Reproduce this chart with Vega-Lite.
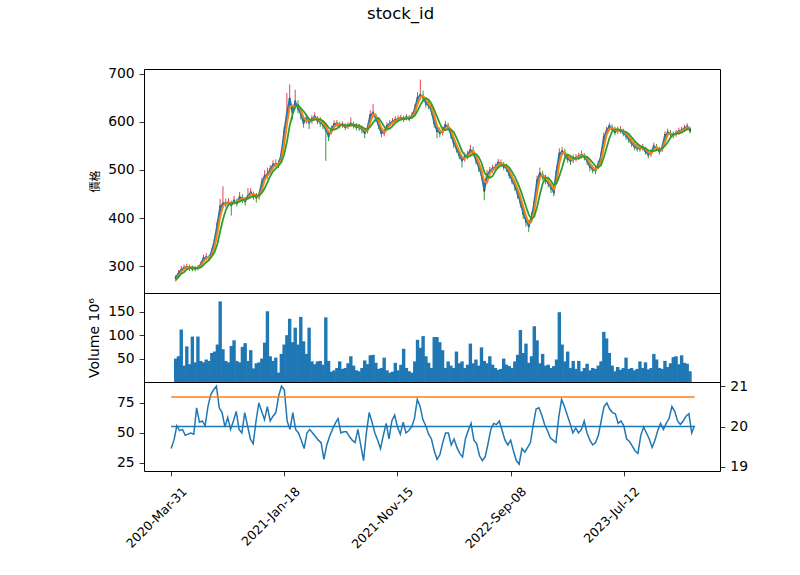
{
  "$schema": "https://vega.github.io/schema/vega-lite/v6.json",
  "background": "white",
  "padding": {"left": 87, "top": 5, "right": 5, "bottom": 5},
  "bounds": "flush",
  "title": {"text": "stock_id", "font": "DejaVu Sans", "fontSize": 16.5, "fontWeight": "normal", "color": "black", "anchor": "middle", "offset": 44, "dx": -17},
  "spacing": 0,
  "datasets": {
    "px": [
      {"i":0,"open":273,"high":281,"low":268,"close":277,"ma5":275,"ma10":270,"ma20":272,"volume":50,"rsi":37},
      {"i":5,"open":282,"high":292,"low":278,"close":286,"ma5":284,"ma10":280,"ma20":277,"volume":55,"rsi":44},
      {"i":10,"open":290,"high":300,"low":287,"close":294,"ma5":292,"ma10":288,"ma20":284,"volume":112,"rsi":56},
      {"i":15,"open":294,"high":303,"low":290,"close":298,"ma5":296,"ma10":294,"ma20":287,"volume":35,"rsi":52},
      {"i":20,"open":296,"high":305,"low":292,"close":300,"ma5":298,"ma10":297,"ma20":293,"volume":76,"rsi":53},
      {"i":25,"open":299,"high":303,"low":290,"close":295,"ma5":297,"ma10":298,"ma20":296,"volume":38,"rsi":48},
      {"i":30,"open":297,"high":301,"low":289,"close":293,"ma5":295,"ma10":296,"ma20":297,"volume":97,"rsi":49},
      {"i":35,"open":293,"high":300,"low":289,"close":297,"ma5":295,"ma10":295,"ma20":296,"volume":42,"rsi":50},
      {"i":40,"open":294,"high":302,"low":291,"close":298,"ma5":296,"ma10":296,"ma20":296,"volume":97,"rsi":49},
      {"i":45,"open":300,"high":309,"low":296,"close":304,"ma5":302,"ma10":299,"ma20":297,"volume":45,"rsi":71},
      {"i":50,"open":312,"high":324,"low":308,"close":318,"ma5":315,"ma10":309,"ma20":302,"volume":42,"rsi":59},
      {"i":55,"open":316,"high":327,"low":312,"close":320,"ma5":318,"ma10":317,"ma20":308,"volume":48,"rsi":60},
      {"i":60,"open":318,"high":323,"low":310,"close":314,"ma5":316,"ma10":317,"ma20":313,"volume":45,"rsi":56},
      {"i":65,"open":327,"high":338,"low":322,"close":333,"ma5":330,"ma10":323,"ma20":320,"volume":62,"rsi":72},
      {"i":70,"open":348,"high":362,"low":344,"close":356,"ma5":352,"ma10":341,"ma20":329,"volume":65,"rsi":82},
      {"i":75,"open":380,"high":396,"low":376,"close":390,"ma5":385,"ma10":369,"ma20":346,"volume":80,"rsi":86},
      {"i":80,"open":414,"high":440,"low":410,"close":426,"ma5":420,"ma10":403,"ma20":372,"volume":172,"rsi":89},
      {"i":85,"open":426,"high":466,"low":420,"close":432,"ma5":430,"ma10":425,"ma20":397,"volume":70,"rsi":71},
      {"i":90,"open":428,"high":440,"low":422,"close":432,"ma5":430,"ma10":430,"ma20":416,"volume":45,"rsi":67},
      {"i":95,"open":430,"high":441,"low":425,"close":434,"ma5":432,"ma10":431,"ma20":428,"volume":42,"rsi":55},
      {"i":100,"open":431,"high":436,"low":405,"close":425,"ma5":428,"ma10":430,"ma20":430,"volume":77,"rsi":63},
      {"i":105,"open":432,"high":446,"low":428,"close":438,"ma5":435,"ma10":432,"ma20":431,"volume":89,"rsi":53},
      {"i":110,"open":435,"high":440,"low":424,"close":429,"ma5":432,"ma10":434,"ma20":432,"volume":45,"rsi":60},
      {"i":115,"open":439,"high":454,"low":435,"close":445,"ma5":442,"ma10":437,"ma20":434,"volume":42,"rsi":68},
      {"i":120,"open":443,"high":449,"low":431,"close":437,"ma5":440,"ma10":441,"ma20":437,"volume":75,"rsi":53},
      {"i":125,"open":439,"high":444,"low":426,"close":433,"ma5":436,"ma10":438,"ma20":438,"volume":83,"rsi":50},
      {"i":130,"open":442,"high":462,"low":438,"close":448,"ma5":445,"ma10":441,"ma20":441,"volume":45,"rsi":67},
      {"i":135,"open":449,"high":462,"low":445,"close":455,"ma5":452,"ma10":449,"ma20":443,"volume":68,"rsi":56},
      {"i":140,"open":450,"high":455,"low":438,"close":444,"ma5":447,"ma10":450,"ma20":445,"volume":29,"rsi":45},
      {"i":145,"open":447,"high":452,"low":432,"close":441,"ma5":444,"ma10":446,"ma20":447,"volume":40,"rsi":41},
      {"i":150,"open":443,"high":455,"low":438,"close":449,"ma5":446,"ma10":445,"ma20":447,"volume":42,"rsi":60},
      {"i":155,"open":468,"high":484,"low":462,"close":476,"ma5":472,"ma10":459,"ma20":452,"volume":50,"rsi":75},
      {"i":160,"open":483,"high":500,"low":478,"close":489,"ma5":486,"ma10":479,"ma20":462,"volume":84,"rsi":68},
      {"i":165,"open":487,"high":505,"low":482,"close":493,"ma5":490,"ma10":488,"ma20":474,"volume":151,"rsi":61},
      {"i":170,"open":497,"high":510,"low":492,"close":503,"ma5":500,"ma10":495,"ma20":487,"volume":55,"rsi":72},
      {"i":175,"open":507,"high":520,"low":502,"close":513,"ma5":510,"ma10":505,"ma20":497,"volume":45,"rsi":60},
      {"i":180,"open":510,"high":522,"low":505,"close":514,"ma5":512,"ma10":511,"ma20":503,"volume":52,"rsi":64},
      {"i":185,"open":510,"high":520,"low":504,"close":514,"ma5":512,"ma10":512,"ma20":509,"volume":20,"rsi":67},
      {"i":190,"open":526,"high":542,"low":520,"close":534,"ma5":530,"ma10":521,"ma20":516,"volume":60,"rsi":81},
      {"i":195,"open":570,"high":590,"low":562,"close":580,"ma5":575,"ma10":553,"ma20":532,"volume":80,"rsi":89},
      {"i":200,"open":610,"high":660,"low":600,"close":620,"ma5":615,"ma10":595,"ma20":558,"volume":100,"rsi":86},
      {"i":205,"open":642,"high":678,"low":632,"close":650,"ma5":646,"ma10":631,"ma20":592,"volume":135,"rsi":60},
      {"i":210,"open":626,"high":635,"low":605,"close":618,"ma5":622,"ma10":634,"ma20":615,"volume":85,"rsi":53},
      {"i":215,"open":636,"high":667,"low":630,"close":644,"ma5":640,"ma10":631,"ma20":631,"volume":116,"rsi":67},
      {"i":220,"open":634,"high":645,"low":618,"close":626,"ma5":630,"ma10":635,"ma20":635,"volume":80,"rsi":53},
      {"i":225,"open":622,"high":630,"low":605,"close":614,"ma5":618,"ma10":624,"ma20":628,"volume":139,"rsi":50},
      {"i":230,"open":604,"high":612,"low":588,"close":596,"ma5":600,"ma10":609,"ma20":622,"volume":87,"rsi":44},
      {"i":235,"open":603,"high":616,"low":596,"close":609,"ma5":606,"ma10":603,"ma20":614,"volume":60,"rsi":37},
      {"i":240,"open":603,"high":608,"low":585,"close":597,"ma5":600,"ma10":603,"ma20":606,"volume":116,"rsi":50},
      {"i":245,"open":602,"high":614,"low":596,"close":608,"ma5":605,"ma10":603,"ma20":603,"volume":44,"rsi":53},
      {"i":250,"open":607,"high":620,"low":602,"close":613,"ma5":610,"ma10":608,"ma20":605,"volume":38,"rsi":50},
      {"i":255,"open":607,"high":612,"low":595,"close":601,"ma5":604,"ma10":607,"ma20":605,"volume":44,"rsi":47},
      {"i":260,"open":603,"high":610,"low":590,"close":597,"ma5":600,"ma10":602,"ma20":605,"volume":45,"rsi":44},
      {"i":265,"open":598,"high":604,"low":585,"close":592,"ma5":595,"ma10":598,"ma20":602,"volume":37,"rsi":42},
      {"i":270,"open":589,"high":596,"low":519,"close":581,"ma5":585,"ma10":590,"ma20":596,"volume":138,"rsi":28},
      {"i":275,"open":576,"high":582,"low":560,"close":568,"ma5":572,"ma10":579,"ma20":588,"volume":45,"rsi":40},
      {"i":280,"open":580,"high":592,"low":574,"close":586,"ma5":583,"ma10":578,"ma20":584,"volume":22,"rsi":47},
      {"i":285,"open":591,"high":603,"low":586,"close":597,"ma5":594,"ma10":589,"ma20":584,"volume":25,"rsi":53},
      {"i":290,"open":594,"high":604,"low":590,"close":598,"ma5":596,"ma10":595,"ma20":586,"volume":30,"rsi":58},
      {"i":295,"open":595,"high":600,"low":586,"close":591,"ma5":593,"ma10":595,"ma20":592,"volume":44,"rsi":62},
      {"i":300,"open":592,"high":601,"low":588,"close":596,"ma5":594,"ma10":594,"ma20":594,"volume":28,"rsi":50},
      {"i":305,"open":592,"high":597,"low":583,"close":588,"ma5":590,"ma10":592,"ma20":593,"volume":30,"rsi":51},
      {"i":310,"open":590,"high":599,"low":585,"close":594,"ma5":592,"ma10":591,"ma20":592,"volume":40,"rsi":51},
      {"i":315,"open":594,"high":609,"low":590,"close":598,"ma5":596,"ma10":594,"ma20":593,"volume":55,"rsi":47},
      {"i":320,"open":595,"high":600,"low":586,"close":591,"ma5":593,"ma10":595,"ma20":593,"volume":35,"rsi":44},
      {"i":325,"open":592,"high":597,"low":582,"close":588,"ma5":590,"ma10":592,"ma20":593,"volume":25,"rsi":42},
      {"i":330,"open":591,"high":596,"low":581,"close":587,"ma5":589,"ma10":590,"ma20":592,"volume":23,"rsi":53},
      {"i":335,"open":587,"high":592,"low":576,"close":583,"ma5":585,"ma10":587,"ma20":589,"volume":30,"rsi":40},
      {"i":340,"open":581,"high":586,"low":566,"close":575,"ma5":578,"ma10":582,"ma20":586,"volume":46,"rsi":27},
      {"i":345,"open":582,"high":594,"low":576,"close":588,"ma5":585,"ma10":582,"ma20":584,"volume":38,"rsi":50},
      {"i":350,"open":608,"high":624,"low":602,"close":616,"ma5":612,"ma10":599,"ma20":590,"volume":57,"rsi":67},
      {"i":355,"open":615,"high":637,"low":610,"close":621,"ma5":618,"ma10":615,"ma20":598,"volume":58,"rsi":59},
      {"i":360,"open":611,"high":618,"low":600,"close":605,"ma5":608,"ma10":613,"ma20":606,"volume":41,"rsi":50},
      {"i":365,"open":598,"high":604,"low":585,"close":592,"ma5":595,"ma10":602,"ma20":608,"volume":28,"rsi":44},
      {"i":370,"open":581,"high":587,"low":568,"close":575,"ma5":578,"ma10":587,"ma20":600,"volume":30,"rsi":37},
      {"i":375,"open":576,"high":586,"low":570,"close":580,"ma5":578,"ma10":578,"ma20":590,"volume":52,"rsi":48},
      {"i":380,"open":587,"high":599,"low":582,"close":593,"ma5":590,"ma10":584,"ma20":585,"volume":25,"rsi":58},
      {"i":385,"open":594,"high":604,"low":590,"close":598,"ma5":596,"ma10":593,"ma20":586,"volume":20,"rsi":45},
      {"i":390,"open":598,"high":608,"low":594,"close":602,"ma5":600,"ma10":598,"ma20":591,"volume":22,"rsi":60},
      {"i":395,"open":602,"high":612,"low":598,"close":606,"ma5":604,"ma10":602,"ma20":598,"volume":41,"rsi":65},
      {"i":400,"open":604,"high":613,"low":600,"close":608,"ma5":606,"ma10":605,"ma20":602,"volume":25,"rsi":55},
      {"i":405,"open":606,"high":615,"low":602,"close":610,"ma5":608,"ma10":607,"ma20":605,"volume":37,"rsi":49},
      {"i":410,"open":608,"high":613,"low":600,"close":604,"ma5":606,"ma10":607,"ma20":606,"volume":71,"rsi":59},
      {"i":415,"open":607,"high":616,"low":603,"close":611,"ma5":609,"ma10":608,"ma20":607,"volume":30,"rsi":50},
      {"i":420,"open":609,"high":614,"low":601,"close":605,"ma5":607,"ma10":608,"ma20":608,"volume":23,"rsi":52},
      {"i":425,"open":610,"high":620,"low":606,"close":614,"ma5":612,"ma10":610,"ma20":609,"volume":20,"rsi":55},
      {"i":430,"open":621,"high":636,"low":617,"close":629,"ma5":625,"ma10":619,"ma20":613,"volume":44,"rsi":62},
      {"i":435,"open":644,"high":662,"low":640,"close":652,"ma5":648,"ma10":637,"ma20":623,"volume":90,"rsi":78},
      {"i":440,"open":652,"high":688,"low":646,"close":658,"ma5":655,"ma10":652,"ma20":635,"volume":73,"rsi":72},
      {"i":445,"open":655,"high":665,"low":642,"close":649,"ma5":652,"ma10":654,"ma20":645,"volume":98,"rsi":61},
      {"i":450,"open":644,"high":652,"low":630,"close":636,"ma5":640,"ma10":646,"ma20":649,"volume":55,"rsi":56},
      {"i":455,"open":638,"high":645,"low":626,"close":632,"ma5":635,"ma10":638,"ma20":646,"volume":41,"rsi":49},
      {"i":460,"open":629,"high":636,"low":614,"close":621,"ma5":625,"ma10":630,"ma20":638,"volume":30,"rsi":45},
      {"i":465,"open":604,"high":612,"low":588,"close":596,"ma5":600,"ma10":613,"ma20":625,"volume":96,"rsi":35},
      {"i":470,"open":587,"high":594,"low":566,"close":579,"ma5":583,"ma10":592,"ma20":611,"volume":96,"rsi":28},
      {"i":475,"open":581,"high":588,"low":568,"close":575,"ma5":578,"ma10":581,"ma20":597,"volume":85,"rsi":32},
      {"i":480,"open":577,"high":590,"low":572,"close":583,"ma5":580,"ma10":579,"ma20":585,"volume":68,"rsi":42},
      {"i":485,"open":589,"high":602,"low":584,"close":595,"ma5":592,"ma10":586,"ma20":583,"volume":30,"rsi":50},
      {"i":490,"open":592,"high":598,"low":582,"close":588,"ma5":590,"ma10":591,"ma20":585,"volume":44,"rsi":50},
      {"i":495,"open":578,"high":584,"low":565,"close":572,"ma5":575,"ma10":583,"ma20":584,"volume":35,"rsi":40},
      {"i":500,"open":562,"high":568,"low":546,"close":554,"ma5":558,"ma10":567,"ma20":579,"volume":30,"rsi":45},
      {"i":505,"open":549,"high":556,"low":536,"close":543,"ma5":546,"ma10":552,"ma20":567,"volume":65,"rsi":38},
      {"i":510,"open":535,"high":540,"low":522,"close":529,"ma5":532,"ma10":539,"ma20":553,"volume":40,"rsi":33},
      {"i":515,"open":524,"high":528,"low":505,"close":518,"ma5":521,"ma10":527,"ma20":539,"volume":44,"rsi":30},
      {"i":520,"open":523,"high":536,"low":517,"close":529,"ma5":526,"ma10":524,"ma20":531,"volume":30,"rsi":45},
      {"i":525,"open":527,"high":540,"low":522,"close":533,"ma5":530,"ma10":528,"ma20":527,"volume":37,"rsi":52},
      {"i":530,"open":537,"high":552,"low":532,"close":543,"ma5":540,"ma10":535,"ma20":529,"volume":82,"rsi":58},
      {"i":535,"open":541,"high":548,"low":528,"close":535,"ma5":538,"ma10":539,"ma20":534,"volume":40,"rsi":44},
      {"i":540,"open":525,"high":532,"low":512,"close":519,"ma5":522,"ma10":530,"ma20":533,"volume":48,"rsi":41},
      {"i":545,"open":511,"high":518,"low":496,"close":505,"ma5":508,"ma10":515,"ma20":527,"volume":35,"rsi":31},
      {"i":550,"open":496,"high":502,"low":480,"close":488,"ma5":492,"ma10":500,"ma20":515,"volume":74,"rsi":27},
      {"i":555,"open":465,"high":472,"low":437,"close":455,"ma5":460,"ma10":476,"ma20":496,"volume":45,"rsi":30},
      {"i":560,"open":484,"high":500,"low":475,"close":492,"ma5":488,"ma10":474,"ma20":487,"volume":40,"rsi":41},
      {"i":565,"open":494,"high":506,"low":488,"close":500,"ma5":497,"ma10":493,"ma20":484,"volume":55,"rsi":53},
      {"i":570,"open":499,"high":511,"low":494,"close":505,"ma5":502,"ma10":500,"ma20":487,"volume":37,"rsi":58},
      {"i":575,"open":503,"high":513,"low":498,"close":507,"ma5":505,"ma10":504,"ma20":498,"volume":30,"rsi":57},
      {"i":580,"open":511,"high":523,"low":506,"close":517,"ma5":514,"ma10":510,"ma20":505,"volume":26,"rsi":60},
      {"i":585,"open":512,"high":522,"low":507,"close":516,"ma5":514,"ma10":514,"ma20":509,"volume":28,"rsi":52},
      {"i":590,"open":511,"high":517,"low":500,"close":505,"ma5":508,"ma10":511,"ma20":510,"volume":50,"rsi":44},
      {"i":595,"open":508,"high":513,"low":496,"close":502,"ma5":505,"ma10":507,"ma20":510,"volume":37,"rsi":40},
      {"i":600,"open":496,"high":502,"low":482,"close":488,"ma5":492,"ma10":499,"ma20":505,"volume":34,"rsi":44},
      {"i":605,"open":484,"high":490,"low":470,"close":476,"ma5":480,"ma10":486,"ma20":496,"volume":30,"rsi":35},
      {"i":610,"open":472,"high":478,"low":457,"close":464,"ma5":468,"ma10":474,"ma20":486,"volume":44,"rsi":27},
      {"i":615,"open":456,"high":462,"low":440,"close":448,"ma5":452,"ma10":460,"ma20":473,"volume":58,"rsi":24},
      {"i":620,"open":440,"high":446,"low":422,"close":430,"ma5":435,"ma10":444,"ma20":459,"volume":111,"rsi":37},
      {"i":625,"open":417,"high":424,"low":398,"close":407,"ma5":412,"ma10":424,"ma20":442,"volume":62,"rsi":34},
      {"i":630,"open":399,"high":405,"low":382,"close":391,"ma5":395,"ma10":404,"ma20":424,"volume":82,"rsi":38},
      {"i":635,"open":389,"high":396,"low":371,"close":381,"ma5":385,"ma10":390,"ma20":407,"volume":41,"rsi":42},
      {"i":640,"open":396,"high":412,"low":390,"close":404,"ma5":400,"ma10":393,"ma20":398,"volume":55,"rsi":57},
      {"i":645,"open":425,"high":442,"low":418,"close":435,"ma5":430,"ma10":415,"ma20":403,"volume":119,"rsi":70},
      {"i":650,"open":470,"high":488,"low":464,"close":480,"ma5":475,"ma10":453,"ma20":423,"volume":89,"rsi":71},
      {"i":655,"open":489,"high":505,"low":484,"close":495,"ma5":492,"ma10":484,"ma20":449,"volume":40,"rsi":65},
      {"i":660,"open":491,"high":498,"low":478,"close":485,"ma5":488,"ma10":490,"ma20":471,"volume":60,"rsi":57},
      {"i":665,"open":483,"high":490,"low":470,"close":477,"ma5":480,"ma10":484,"ma20":484,"volume":35,"rsi":52},
      {"i":670,"open":477,"high":484,"low":464,"close":471,"ma5":474,"ma10":477,"ma20":484,"volume":37,"rsi":46},
      {"i":675,"open":467,"high":472,"low":452,"close":461,"ma5":464,"ma10":469,"ma20":477,"volume":30,"rsi":44},
      {"i":680,"open":458,"high":464,"low":445,"close":452,"ma5":455,"ma10":460,"ma20":468,"volume":34,"rsi":42},
      {"i":685,"open":490,"high":508,"low":484,"close":500,"ma5":495,"ma10":475,"ma20":472,"volume":48,"rsi":63},
      {"i":690,"open":528,"high":545,"low":522,"close":536,"ma5":532,"ma10":514,"ma20":487,"volume":149,"rsi":78},
      {"i":695,"open":535,"high":548,"low":530,"close":541,"ma5":538,"ma10":535,"ma20":505,"volume":80,"rsi":72},
      {"i":700,"open":537,"high":544,"low":525,"close":531,"ma5":534,"ma10":536,"ma20":525,"volume":44,"rsi":65},
      {"i":705,"open":527,"high":533,"low":515,"close":521,"ma5":524,"ma10":529,"ma20":532,"volume":65,"rsi":58},
      {"i":710,"open":523,"high":528,"low":510,"close":517,"ma5":520,"ma10":522,"ma20":529,"volume":30,"rsi":50},
      {"i":715,"open":520,"high":532,"low":514,"close":526,"ma5":523,"ma10":522,"ma20":525,"volume":45,"rsi":54},
      {"i":720,"open":523,"high":533,"low":518,"close":527,"ma5":525,"ma10":524,"ma20":523,"volume":28,"rsi":50},
      {"i":725,"open":526,"high":536,"low":521,"close":530,"ma5":528,"ma10":527,"ma20":524,"volume":45,"rsi":53},
      {"i":730,"open":529,"high":540,"low":524,"close":533,"ma5":531,"ma10":530,"ma20":527,"volume":23,"rsi":60},
      {"i":735,"open":530,"high":535,"low":520,"close":526,"ma5":528,"ma10":530,"ma20":528,"volume":30,"rsi":50},
      {"i":740,"open":523,"high":528,"low":510,"close":517,"ma5":520,"ma10":524,"ma20":527,"volume":39,"rsi":44},
      {"i":745,"open":511,"high":516,"low":497,"close":505,"ma5":508,"ma10":514,"ma20":522,"volume":25,"rsi":40},
      {"i":750,"open":505,"high":510,"low":493,"close":499,"ma5":502,"ma10":505,"ma20":515,"volume":30,"rsi":42},
      {"i":755,"open":503,"high":508,"low":491,"close":497,"ma5":500,"ma10":501,"ma20":508,"volume":28,"rsi":48},
      {"i":760,"open":507,"high":519,"low":502,"close":513,"ma5":510,"ma10":505,"ma20":505,"volume":35,"rsi":60},
      {"i":765,"open":524,"high":538,"low":518,"close":532,"ma5":528,"ma10":519,"ma20":510,"volume":44,"rsi":72},
      {"i":770,"open":560,"high":578,"low":554,"close":570,"ma5":565,"ma10":547,"ma20":526,"volume":107,"rsi":75},
      {"i":775,"open":577,"high":590,"low":572,"close":583,"ma5":580,"ma10":573,"ma20":546,"volume":93,"rsi":70},
      {"i":780,"open":587,"high":598,"low":582,"close":593,"ma5":590,"ma10":585,"ma20":566,"volume":62,"rsi":67},
      {"i":785,"open":589,"high":595,"low":578,"close":583,"ma5":586,"ma10":588,"ma20":580,"volume":35,"rsi":66},
      {"i":790,"open":583,"high":590,"low":572,"close":577,"ma5":580,"ma10":583,"ma20":584,"volume":23,"rsi":58},
      {"i":795,"open":580,"high":590,"low":575,"close":584,"ma5":582,"ma10":581,"ma20":585,"volume":32,"rsi":60},
      {"i":800,"open":581,"high":591,"low":576,"close":585,"ma5":583,"ma10":583,"ma20":583,"volume":26,"rsi":56},
      {"i":805,"open":581,"high":586,"low":570,"close":575,"ma5":578,"ma10":581,"ma20":581,"volume":30,"rsi":45},
      {"i":810,"open":575,"high":580,"low":563,"close":569,"ma5":572,"ma10":575,"ma20":579,"volume":52,"rsi":43},
      {"i":815,"open":568,"high":573,"low":556,"close":562,"ma5":565,"ma10":569,"ma20":575,"volume":28,"rsi":39},
      {"i":820,"open":560,"high":565,"low":548,"close":554,"ma5":557,"ma10":561,"ma20":568,"volume":30,"rsi":35},
      {"i":825,"open":553,"high":558,"low":541,"close":547,"ma5":550,"ma10":554,"ma20":561,"volume":25,"rsi":33},
      {"i":830,"open":549,"high":554,"low":538,"close":543,"ma5":546,"ma10":548,"ma20":555,"volume":28,"rsi":48},
      {"i":835,"open":547,"high":552,"low":538,"close":543,"ma5":545,"ma10":546,"ma20":550,"volume":44,"rsi":55},
      {"i":840,"open":545,"high":554,"low":540,"close":549,"ma5":547,"ma10":546,"ma20":547,"volume":30,"rsi":50},
      {"i":845,"open":543,"high":548,"low":532,"close":537,"ma5":540,"ma10":544,"ma20":545,"volume":42,"rsi":45},
      {"i":850,"open":536,"high":541,"low":524,"close":530,"ma5":533,"ma10":537,"ma20":541,"volume":27,"rsi":38},
      {"i":855,"open":533,"high":543,"low":527,"close":537,"ma5":535,"ma10":534,"ma20":539,"volume":30,"rsi":44},
      {"i":860,"open":545,"high":557,"low":540,"close":551,"ma5":548,"ma10":542,"ma20":539,"volume":60,"rsi":52},
      {"i":865,"open":548,"high":554,"low":539,"close":544,"ma5":546,"ma10":547,"ma20":541,"volume":48,"rsi":58},
      {"i":870,"open":543,"high":548,"low":532,"close":537,"ma5":540,"ma10":543,"ma20":542,"volume":30,"rsi":53},
      {"i":875,"open":542,"high":553,"low":537,"close":548,"ma5":545,"ma10":543,"ma20":545,"volume":28,"rsi":58},
      {"i":880,"open":566,"high":580,"low":560,"close":574,"ma5":570,"ma10":558,"ma20":550,"volume":45,"rsi":62},
      {"i":885,"open":574,"high":586,"low":569,"close":580,"ma5":577,"ma10":574,"ma20":558,"volume":32,"rsi":72},
      {"i":890,"open":577,"high":583,"low":568,"close":573,"ma5":575,"ma10":576,"ma20":567,"volume":40,"rsi":68},
      {"i":895,"open":575,"high":580,"low":566,"close":571,"ma5":573,"ma10":574,"ma20":574,"volume":53,"rsi":60},
      {"i":900,"open":574,"high":583,"low":569,"close":578,"ma5":576,"ma10":575,"ma20":575,"volume":55,"rsi":57},
      {"i":905,"open":578,"high":588,"low":573,"close":582,"ma5":580,"ma10":578,"ma20":576,"volume":38,"rsi":60},
      {"i":910,"open":580,"high":590,"low":576,"close":584,"ma5":582,"ma10":581,"ma20":578,"volume":57,"rsi":64},
      {"i":915,"open":584,"high":594,"low":579,"close":588,"ma5":586,"ma10":584,"ma20":581,"volume":41,"rsi":66},
      {"i":920,"open":588,"high":597,"low":582,"close":592,"ma5":590,"ma10":588,"ma20":585,"volume":39,"rsi":50},
      {"i":925,"open":586,"high":590,"low":576,"close":580,"ma5":583,"ma10":587,"ma20":585,"volume":23,"rsi":56}
    ],
    "upper": [{"start": 0, "end": 925, "level": 80}],
    "middle": [{"start": 0, "end": 925, "level": 20}]
  },
  "vconcat": [
    {
      "width": 576,
      "height": 224,
      "data": {"name": "px"},
      "encoding": {
        "x": {"field": "i", "type": "quantitative", "scale": {"domain": [-48, 970], "nice": false, "zero": false}, "axis": null}
      },
      "layer": [
        {
          "mark": {"type": "rule", "strokeWidth": 1},
          "encoding": {
            "y": {
              "field": "low", "type": "quantitative",
              "scale": {"domain": [244, 710], "nice": false, "zero": false},
              "axis": {"values": [300, 400, 500, 600, 700], "title": "價格", "titleFont": "Noto Sans CJK TC", "titleFontSize": 11, "titlePadding": 7}
            },
            "y2": {"field": "high"},
            "color": {"condition": {"test": "datum.close >= datum.open", "value": "#e0474c"}, "value": "#2ca02c"}
          }
        },
        {
          "mark": {"type": "bar", "width": 1.8, "color": "#333333"},
          "encoding": {
            "y": {"field": "open", "type": "quantitative"},
            "y2": {"field": "close"}
          }
        },
        {
          "mark": {"type": "line", "color": "#1f77b4", "strokeWidth": 2.2},
          "encoding": {"y": {"field": "ma5", "type": "quantitative"}}
        },
        {
          "mark": {"type": "line", "color": "#ff7f0e", "strokeWidth": 2},
          "encoding": {"y": {"field": "ma10", "type": "quantitative"}}
        },
        {
          "mark": {"type": "line", "color": "#2ca02c", "strokeWidth": 1.8},
          "encoding": {"y": {"field": "ma20", "type": "quantitative"}}
        }
      ]
    },
    {
      "width": 576,
      "height": 89,
      "data": {"name": "px"},
      "mark": {"type": "bar", "width": 3.4, "color": "#1f77b4"},
      "encoding": {
        "x": {"field": "i", "type": "quantitative", "scale": {"domain": [-48, 970], "nice": false, "zero": false}, "axis": null},
        "y": {
          "field": "volume", "type": "quantitative",
          "scale": {"domain": [0, 190], "nice": false},
          "axis": {"values": [50, 100, 150], "title": "Volume  10⁶", "titleFontSize": 14, "titlePadding": 6}
        }
      }
    },
    {
      "width": 576,
      "height": 89,
      "layer": [
        {
          "layer": [
            {
              "data": {"name": "px"},
              "mark": {"type": "line", "color": "#1f77b4", "strokeWidth": 1.5},
              "encoding": {
                "x": {
                  "field": "i", "type": "quantitative",
                  "scale": {"domain": [-48, 970], "nice": false, "zero": false},
                  "axis": {
                    "values": [0, 200, 400, 600, 800],
                    "title": null,
                    "labelExpr": "datum.value == 0 ? '2020-Mar-31' : datum.value == 200 ? '2021-Jan-18' : datum.value == 400 ? '2021-Nov-15' : datum.value == 600 ? '2022-Sep-08' : '2023-Jul-12'",
                    "labelAngle": -45, "labelAlign": "right", "labelBaseline": "top", "labelFontSize": 12.5, "labelOffset": 9, "labelPadding": 9
                  }
                },
                "y": {
                  "field": "rsi", "type": "quantitative",
                  "scale": {"domain": [18.3, 92.5], "nice": false, "zero": false},
                  "axis": {"values": [25, 50, 75], "title": null}
                }
              }
            },
            {
              "data": {"name": "upper"},
              "mark": {"type": "rule", "color": "#ff7f0e", "strokeWidth": 1.5},
              "encoding": {
                "x": {"field": "start", "type": "quantitative"},
                "x2": {"field": "end"},
                "y": {"field": "level", "type": "quantitative"}
              }
            }
          ]
        },
        {
          "data": {"name": "middle"},
          "mark": {"type": "rule", "color": "#1f77b4", "strokeWidth": 1.5},
          "encoding": {
            "x": {"field": "start", "type": "quantitative"},
            "x2": {"field": "end"},
            "y": {
              "field": "level", "type": "quantitative",
              "scale": {"domain": [18.9, 21.1], "nice": false, "zero": false},
              "axis": {"orient": "right", "values": [19, 20, 21], "title": null}
            }
          }
        }
      ],
      "resolve": {"scale": {"y": "independent"}, "axis": {"y": "independent"}}
    }
  ],
  "config": {
    "font": "DejaVu Sans",
    "view": {"stroke": "black", "strokeWidth": 1},
    "axis": {
      "domain": false,
      "grid": false,
      "ticks": true,
      "tickColor": "black",
      "tickSize": 4.9,
      "tickWidth": 0.8,
      "labelColor": "black",
      "labelFont": "DejaVu Sans",
      "labelFontSize": 13.9,
      "labelPadding": 4.9,
      "titleColor": "black",
      "titleFont": "DejaVu Sans",
      "titleFontWeight": "normal"
    }
  }
}
